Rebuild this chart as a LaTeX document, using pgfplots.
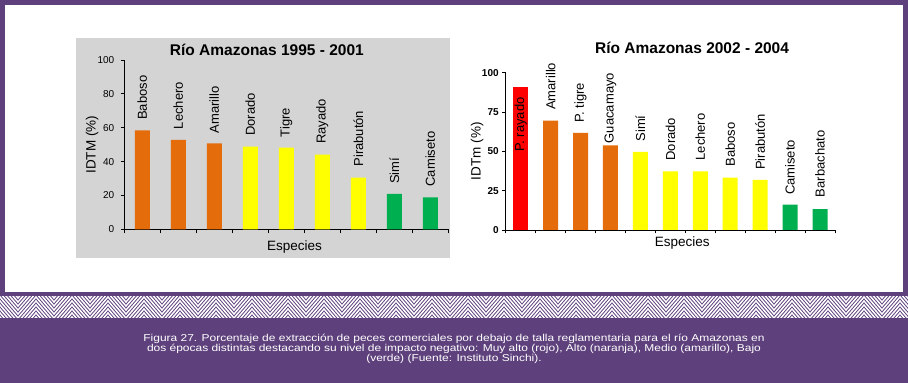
\documentclass[border=0pt]{standalone}
\usepackage{pgfplots}
\pgfplotsset{compat=1.18}
\usepackage{pgfplotstable}
\usepackage{fontspec}
\setmainfont{Liberation Sans}
\definecolor{frame}{HTML}{5E417C}
\definecolor{panel}{HTML}{D4D4D4}
\definecolor{horange}{HTML}{E46C0A}
\definecolor{hyellow}{HTML}{FFFF00}
\definecolor{hgreen}{HTML}{00B050}
\definecolor{hred}{HTML}{FF0000}

\pgfplotstableread{
x y ly label
0 58.5 64.6 Baboso
1 52.8 59.1 Lechero
2 50.8 56.7 Amarillo
3 48.8 55.1 Dorado
4 48.2 54.3 Tigre
5 44.1 50.4 Rayado
6 30.5 37.0 Pirabutón
7 20.9 26.8 Simí
8 18.9 25.2 Camiseto
}\leftdata

\pgfplotstableread{
x y ly label
0 91.1 49.8 {P. rayado}
1 69.5 76.3 Amarillo
2 61.7 68.2 {P. tigre}
3 53.8 55.1 Guacamayo
4 49.6 56.1 Simí
5 37.3 44.1 Dorado
6 37.3 44.1 Lechero
7 33.3 40.3 Baboso
8 31.8 38.1 Pirabutón
9 16.1 22.2 Camiseto
10 13.3 20.8 Barbachato
}\rightdata

\pgfplotsset{
  common/.style={
    scale only axis, clip=false,
    axis lines*=left, axis line style={-, line width=0.8pt, black},
    tick align=outside, major tick length=3.5pt,
    tick style={line width=0.8pt, black},
    xticklabels={}, ymin=0, ymax=100,
    /pgf/number format/assume math mode=true,
    ylabel style={font=\fontsize{13.5}{13.5}\selectfont},
    xlabel style={font=\fontsize{13.5}{13.5}\selectfont, anchor=center},
    title style={font=\bfseries\fontsize{15.5}{15.5}\selectfont, anchor=center},
  },
  bars/.style={ybar, bar width=15pt, bar shift=0pt, draw=none},
  labs/.style={draw=none, nodes near coords, point meta=explicit symbolic,
    every node near coord/.append style={rotate=90, anchor=west, inner sep=0pt,
      text=black, font=\fontsize{13}{13}\selectfont}},
}

\begin{document}
\begin{tikzpicture}
\path[use as bounding box] (0,0) rectangle (908pt,383pt);
\fill[frame] (0,0) rectangle (908pt,383pt);
\fill[white] (5pt,91pt) rectangle (902.7pt,378pt);
\fill[panel] (76pt,125pt) rectangle (450pt,345pt);
\begin{scope}
\clip (0,65pt) rectangle (908pt,86pt);
\foreach \o in {-24,-20,...,24} {
  \draw[white, line width=1.5pt]
    (-36pt,86pt+\o pt) \foreach \k in {-1,0,...,25} { -- (\k*36pt+18pt,65pt+\o pt) -- (\k*36pt+36pt,86pt+\o pt) };
}
\end{scope}

\begin{scope}[every node/.style={text=white, anchor=base, inner sep=0pt, xscale=1.197, transform shape, font=\fontsize{10}{10}\selectfont}]
\node at (454pt,41.5pt) {Figura 27. Porcentaje de extracción de peces comerciales por debajo de talla reglamentaria para el río Amazonas en};
\node at (454pt,31.2pt) {dos épocas distintas destacando su nivel de impacto negativo: Muy alto (rojo), Alto (naranja), Medio (amarillo), Bajo};
\node at (454pt,21.0pt) {(verde) (Fuente: Instituto Sinchi).};
\end{scope}

\begin{axis}[common,
  at={(124.3pt,153.7pt)}, anchor=south west,
  width=324pt, height=169.3pt,
  xmin=-0.5, xmax=8.5,
  xtick={-0.5,0.5,1.5,2.5,3.5,4.5,5.5,6.5,7.5,8.5},
  ytick={0,20,40,60,80,100},
  yticklabel style={font=\fontsize{10}{10}\selectfont, xshift=-3pt},
  ylabel={IDTM (\%)}, ylabel style={at={(axis description cs:-0.099,0.5)}, anchor=center},
  xlabel={Especies}, xlabel style={at={(axis description cs:0.525,-0.105)}},
  title={Río Amazonas 1995 - 2001}, title style={at={(axis description cs:0.44,1.025)}},
]
\addplot[bars, fill=horange, restrict x to domain=0:2] table[x=x,y=y] {\leftdata};
\addplot[bars, fill=hyellow, restrict x to domain=3:6] table[x=x,y=y] {\leftdata};
\addplot[bars, fill=hgreen, restrict x to domain=7:8] table[x=x,y=y] {\leftdata};
\addplot[labs] table[x=x,y=ly,meta=label] {\leftdata};
\end{axis}

\begin{axis}[common,
  at={(505.7pt,153pt)}, anchor=south west,
  width=329.3pt, height=157.3pt,
  xmin=-0.5, xmax=10.5,
  xtick={-0.5,0.5,1.5,2.5,3.5,4.5,5.5,6.5,7.5,8.5,9.5,10.5},
  ytick={0,25,50,75,100},
  yticklabel style={font=\bfseries\fontsize{10}{10}\selectfont},
  ylabel={IDTm (\%)}, ylabel style={at={(axis description cs:-0.087,0.5)}, anchor=center},
  xlabel={Especies}, xlabel style={at={(axis description cs:0.536,-0.083)}},
  title={Río Amazonas 2002 - 2004}, title style={at={(axis description cs:0.566,1.12)}},
]
\addplot[bars, fill=hred, restrict x to domain=0:0] table[x=x,y=y] {\rightdata};
\addplot[bars, fill=horange, restrict x to domain=1:3] table[x=x,y=y] {\rightdata};
\addplot[bars, fill=hyellow, restrict x to domain=4:8] table[x=x,y=y] {\rightdata};
\addplot[bars, fill=hgreen, restrict x to domain=9:10] table[x=x,y=y] {\rightdata};
\addplot[labs] table[x=x,y=ly,meta=label] {\rightdata};
\end{axis}
\end{tikzpicture}
\end{document}
